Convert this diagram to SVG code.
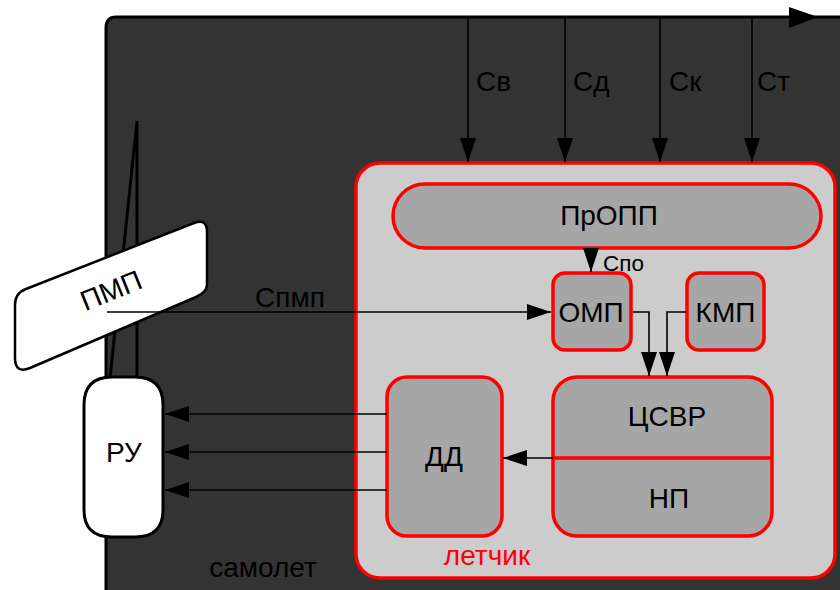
<svg xmlns="http://www.w3.org/2000/svg" width="840" height="590" viewBox="0 0 840 590">
<style>
text{font-family:"Liberation Sans",Arial,sans-serif;fill:#000;}
.t{font-size:28px;text-anchor:middle;}
.l{font-size:28px;}
.box{fill:#a6a6a6;stroke:#ff0000;stroke-width:3.5;}
.ln{stroke:#000;stroke-width:1.6;fill:none;}
</style>
<defs>
<marker id="ah" markerUnits="userSpaceOnUse" markerWidth="24" markerHeight="16" refX="24" refY="8" orient="auto" viewBox="0 0 24 16">
<path d="M0,0 L24,8 L0,16 z" fill="#000"/>
</marker>
</defs>
<rect width="840" height="590" fill="#fff"/>
<g id="aircraft">
<path d="M106,28 Q106,17 116,17 L850,17 L850,600 L116,600 Q106,600 106,590 Z" fill="#333333" stroke="#000" stroke-width="3"/>
<polygon points="789,7 818,17 789,28" fill="#000"/>
<text x="263" y="577" class="t">самолет</text>
</g>
<g id="stick">
<path d="M137,121 L137,378 M137,121 L110,378" stroke="#000" stroke-width="3" fill="none"/>
</g>
<g id="pmp">
<path d="M15,305 Q15,293 26,289 L194,223 Q207,218 207,232 L207,285 Q207,292 196,297 L30,368 Q15,374 15,358 Z" fill="#fff" stroke="#000" stroke-width="2.5"/>
<text x="111" y="300" class="t" transform="rotate(-22 111 290)">ПМП</text>
</g>
<g id="ru">
<path d="M84,405 Q84,377 112,377 L135,377 Q163,377 163,405 L163,510 Q163,537 135,537 L112,537 Q84,537 84,510 Z" fill="#fff" stroke="#000" stroke-width="3"/>
<text x="124" y="462" class="t">РУ</text>
</g>
<g id="letchik">
<rect x="356" y="163" width="479" height="415" rx="24" fill="#cccccc" stroke="#ff0000" stroke-width="3.5"/>
<text x="487" y="565" class="t" style="fill:#ff0000">летчик</text>
</g>
<g id="propp">
<rect x="393" y="184" width="428" height="64" rx="32" class="box"/>
<text x="609" y="225" class="t">ПрОПП</text>
</g>
<g id="omp">
<rect x="553" y="273" width="78" height="77" rx="12" class="box"/>
<text x="591" y="322" class="t">ОМП</text>
</g>
<g id="kmp">
<rect x="687" y="273" width="77" height="77" rx="12" class="box"/>
<text x="725.5" y="322" class="t">КМП</text>
</g>
<g id="csvr">
<rect x="553" y="377" width="219" height="159" rx="24" class="box"/>
<line x1="553" y1="458" x2="772" y2="458" stroke="#ff0000" stroke-width="3.5"/>
<text x="667" y="426" class="t">ЦСВР</text>
<text x="669" y="508" class="t">НП</text>
</g>
<g id="dd">
<rect x="387" y="377" width="115" height="159" rx="20" class="box"/>
<text x="444" y="466" class="t">ДД</text>
</g>
<g id="connectors">
<line x1="468" y1="18" x2="468" y2="162" class="ln" marker-end="url(#ah)"/>
<line x1="565" y1="18" x2="565" y2="162" class="ln" marker-end="url(#ah)"/>
<line x1="660" y1="18" x2="660" y2="162" class="ln" marker-end="url(#ah)"/>
<line x1="752" y1="18" x2="752" y2="162" class="ln" marker-end="url(#ah)"/>
<text x="476" y="91" class="l">Св</text>
<text x="573" y="91" class="l">Сд</text>
<text x="669" y="91" class="l">Ск</text>
<text x="757" y="91" class="l">Ст</text>
<line x1="591" y1="248" x2="591" y2="272" class="ln" marker-end="url(#ah)"/>
<text x="603" y="271" style="font-size:22.5px">Спо</text>
<line x1="107" y1="312" x2="551" y2="312" class="ln" marker-end="url(#ah)"/>
<text x="290" y="307" class="t">Спмп</text>
<path d="M633,312 L649,312 L649,376" class="ln" marker-end="url(#ah)"/>
<path d="M686,312 L667,312 L667,376" class="ln" marker-end="url(#ah)"/>
<line x1="553" y1="458" x2="503" y2="458" class="ln" marker-end="url(#ah)"/>
<line x1="387" y1="414" x2="165" y2="414" class="ln" marker-end="url(#ah)"/>
<line x1="387" y1="452" x2="165" y2="452" class="ln" marker-end="url(#ah)"/>
<line x1="387" y1="490" x2="165" y2="490" class="ln" marker-end="url(#ah)"/>
</g>
</svg>
